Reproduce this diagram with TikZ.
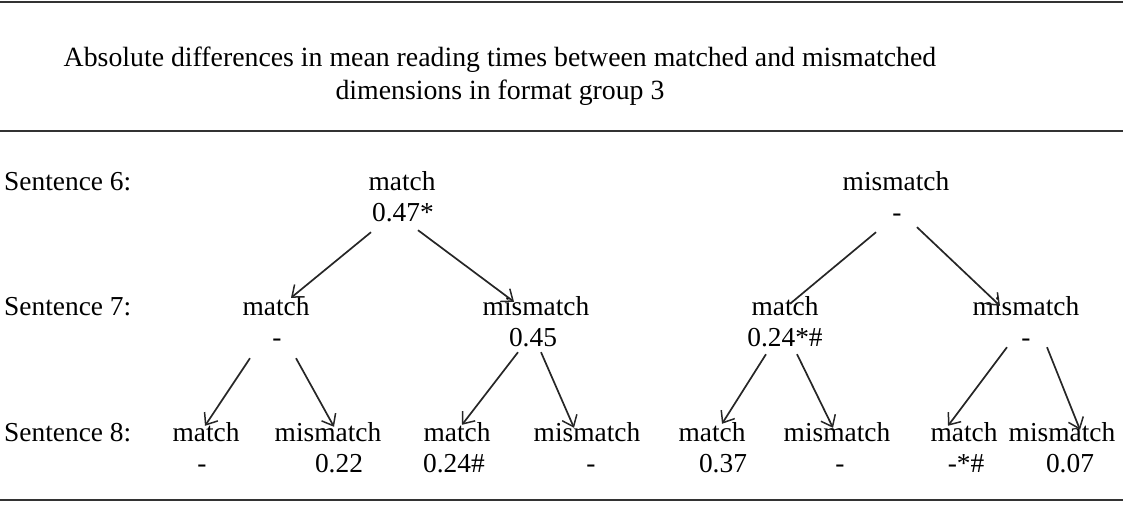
\documentclass[tikz,border=0pt]{standalone}
\usepackage{fontspec}
\setmainfont{Liberation Serif}
\usetikzlibrary{arrows.meta,calc}
\begin{document}
\begin{tikzpicture}[x=1pt,y=-1pt,
  txt/.style={inner sep=0pt,text height=18pt,text depth=6pt,font=\fontsize{27.4}{31}\selectfont},
  rowlabel/.style={txt,anchor=west},
  rule/.style={line width=2.6pt,draw=black!80},
  arr/.style={line width=1.7pt,draw=black!85,-{Straight Barb[length=10pt,width=16pt,line width=1.5pt]}},
  plain/.style={line width=1.7pt,draw=black!85}]
\useasboundingbox (0,0) rectangle (1123,506);

% rules of the table
\coordinate (t0) at (0,2);   \coordinate (t1) at (1123,2);
\coordinate (h0) at (0,131); \coordinate (h1) at (1123,131);
\coordinate (b0) at (0,500); \coordinate (b1) at (1123,500);
\draw[rule] (t0) -- (t1);
\draw[rule,line width=2.2pt] (h0) -- (h1);
\draw[rule] (b0) -- (b1);

% caption
\node[align=center,inner sep=0pt,font=\fontsize{27.8}{33}\selectfont] (title) at (500,76)
  {Absolute differences in mean reading times between matched and mismatched\\
   dimensions in format group 3};

% row labels
\node[rowlabel] (s6) at (4,184) {Sentence 6:};
\node[rowlabel] (s7) at (4,309) {Sentence 7:};
\node[rowlabel] (s8) at (4,435) {Sentence 8:};

% level 1
\node[txt] (mA) at (402,184) {match};     \node[txt] (vA) at (403,215) {0.47*};
\node[txt] (mB) at (896,184) {mismatch};  \node[txt] (vB) at (897,215) {-};

% level 2
\node[txt] (mAa) at (276,309) {match};    \node[txt] (vAa) at (277,340) {-};
\node[txt] (mAb) at (536,309) {mismatch}; \node[txt] (vAb) at (533,340) {0.45};
\node[txt] (mBa) at (785,309) {match};    \node[txt] (vBa) at (785,340) {0.24*\#};
\node[txt] (mBb) at (1026,309) {mismatch};\node[txt] (vBb) at (1026,340) {-};

% level 3
\node[txt] (m1) at (206,435) {match};     \node[txt] (v1) at (202,466) {-};
\node[txt] (m2) at (328,435) {mismatch};  \node[txt] (v2) at (339,466) {0.22};
\node[txt] (m3) at (457,435) {match};     \node[txt] (v3) at (454,466) {0.24\#};
\node[txt] (m4) at (587,435) {mismatch};  \node[txt] (v4) at (591,466) {-};
\node[txt] (m5) at (712,435) {match};     \node[txt] (v5) at (723,466) {0.37};
\node[txt] (m6) at (837,435) {mismatch};  \node[txt] (v6) at (840,466) {-};
\node[txt] (m7) at (964,435) {match};     \node[txt] (v7) at (966,466) {-*\#};
\node[txt] (m8) at (1062,435) {mismatch}; \node[txt] (v8) at (1070,466) {0.07};

% branches from sentence 6 to sentence 7
\draw[arr]   ($(vA.south)+(-32,5)$) -- ($(mAa.north)+(15,1)$);
\draw[arr]   ($(vA.south)+(15,3)$)  -- ($(mAb.north)+(-22,5)$);
\draw[plain] ($(vB.south)+(-21,5)$) -- ($(mBa.north)+(5,7)$);
\draw[arr]   ($(vB.south)+(20,0)$)  -- ($(mBb.north)+(-26,9)$);

% branches from sentence 7 to sentence 8
\draw[arr] ($(vAa.south)+(-27,6)$) -- ($(m1.north)+(-1,3)$);
\draw[arr] ($(vAa.south)+(19,6)$)  -- ($(m2.north)+(6,4)$);
\draw[arr] ($(vAb.south)+(-15,0)$) -- ($(m3.north)+(5,2)$);
\draw[arr] ($(vAb.south)+(8,0)$)   -- ($(m4.north)+(-13,5)$);
\draw[arr] ($(vBa.south)+(-19,2)$) -- ($(m5.north)+(10,1)$);
\draw[arr] ($(vBa.south)+(12,2)$)  -- ($(m6.north)+(-4,5)$);
\draw[arr] ($(vBb.south)+(-19,-5)$) -- ($(m7.north)+(-16,3)$);
\draw[arr] ($(vBb.south)+(21,-5)$)  -- ($(m8.north)+(18,7)$);
\end{tikzpicture}
\end{document}
